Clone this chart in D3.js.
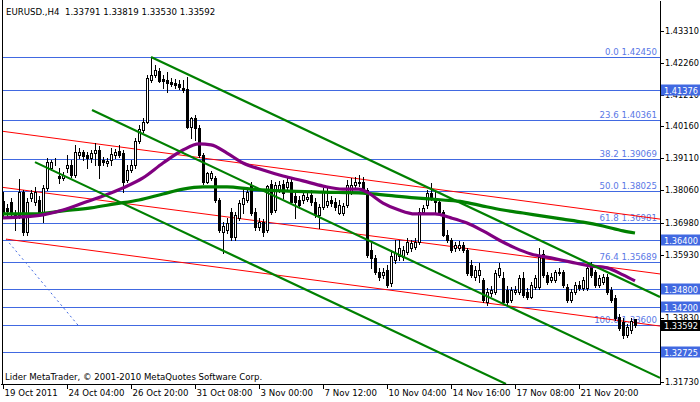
<!DOCTYPE html>
<html>
<head>
<meta charset="utf-8">
<script src="https://cdn.jsdelivr.net/npm/d3@7"></script>
<style>
  body { margin: 0; background: #fff; }
  svg text { font-family: "DejaVu Sans", sans-serif; font-size: 8.6px; white-space: pre; }
  svg .scale text { font-size: 8.2px; }
</style>
</head>
<body>
<svg id="chart" width="700" height="402"></svg>
<script>
const titleText = 'EURUSD.,H4  1.33791 1.33819 1.33530 1.33592';
const footerText = 'Lider MetaTrader, \u00a9 2001-2010 MetaQuotes Software Corp.';

// H4 bars, [open, high, low, close]
const candles = [
  [1.3770,1.3799,1.3714,1.3730],[1.3747,1.3760,1.3720,1.3737],[1.3767,1.3780,1.3714,1.3730],[1.3727,1.3740,1.3674,1.3714],
  [1.3724,1.3842,1.3714,1.3799],[1.3799,1.3806,1.3658,1.3667],[1.3667,1.3780,1.3658,1.3767],[1.3780,1.3806,1.3770,1.3796],
  [1.3767,1.3816,1.3757,1.3799],[1.3773,1.3786,1.3720,1.3733],[1.3733,1.3823,1.3700,1.3813],[1.3813,1.3912,1.3806,1.3898],
  [1.3879,1.3905,1.3872,1.3898],[1.3898,1.3912,1.3888,1.3897],[1.3852,1.3879,1.3829,1.3846],[1.3846,1.3865,1.3839,1.3856],
  [1.3879,1.3922,1.3865,1.3888],[1.3888,1.3905,1.3849,1.3856],[1.3856,1.3955,1.3849,1.3931],[1.3922,1.3945,1.3912,1.3931],
  [1.3931,1.3938,1.3905,1.3918],[1.3922,1.3931,1.3879,1.3912],[1.3912,1.3938,1.3898,1.3928],[1.3928,1.3961,1.3888,1.3938],
  [1.3938,1.3951,1.3846,1.3888],[1.3905,1.3915,1.3888,1.3898],[1.3895,1.3912,1.3885,1.3902],[1.3905,1.3945,1.3888,1.3925],
  [1.3922,1.3941,1.3912,1.3931],[1.3935,1.3955,1.3915,1.3922],[1.3928,1.3938,1.3799,1.3832],[1.3839,1.3888,1.3832,1.3872],
  [1.3872,1.3905,1.3865,1.3888],[1.3888,1.3978,1.3879,1.3968],[1.3968,1.4020,1.3961,1.4007],[1.4004,1.4044,1.3997,1.4030],
  [1.4030,1.4186,1.4027,1.4176],[1.4169,1.4245,1.4162,1.4186],[1.4186,1.4218,1.4179,1.4202],[1.4199,1.4209,1.4162,1.4166],
  [1.4172,1.4186,1.4143,1.4166],[1.4169,1.4195,1.4129,1.4159],[1.4162,1.4176,1.4149,1.4156],[1.4159,1.4172,1.4143,1.4152],
  [1.4156,1.4169,1.4139,1.4146],[1.4143,1.4169,1.4129,1.4136],[1.4139,1.4179,1.4011,1.4014],[1.4014,1.4047,1.3978,1.4044],
  [1.4044,1.4053,1.3971,1.4011],[1.4011,1.4020,1.3915,1.3922],[1.3922,1.3928,1.3826,1.3832],[1.3832,1.3865,1.3829,1.3862],
  [1.3846,1.3869,1.3839,1.3862],[1.3846,1.3852,1.3767,1.3773],[1.3773,1.3780,1.3667,1.3674],[1.3667,1.3700,1.3598,1.3687],
  [1.3674,1.3714,1.3664,1.3697],[1.3733,1.3747,1.3641,1.3651],[1.3651,1.3733,1.3641,1.3724],[1.3714,1.3773,1.3707,1.3763],
  [1.3760,1.3813,1.3730,1.3780],[1.3773,1.3813,1.3767,1.3799],[1.3823,1.3832,1.3724,1.3730],[1.3733,1.3747,1.3674,1.3684],
  [1.3684,1.3714,1.3674,1.3700],[1.3700,1.3710,1.3654,1.3667],[1.3674,1.3823,1.3667,1.3819],[1.3826,1.3839,1.3727,1.3733],
  [1.3740,1.3832,1.3733,1.3823],[1.3806,1.3836,1.3799,1.3823],[1.3826,1.3839,1.3780,1.3796],[1.3816,1.3846,1.3806,1.3832],
  [1.3832,1.3846,1.3760,1.3767],[1.3786,1.3799,1.3714,1.3767],[1.3773,1.3786,1.3747,1.3757],[1.3773,1.3799,1.3763,1.3790],
  [1.3776,1.3796,1.3770,1.3783],[1.3790,1.3806,1.3757,1.3767],[1.3767,1.3780,1.3717,1.3724],[1.3724,1.3760,1.3681,1.3750],
  [1.3750,1.3813,1.3743,1.3799],[1.3757,1.3813,1.3750,1.3770],[1.3773,1.3786,1.3753,1.3763],[1.3767,1.3780,1.3740,1.3750],
  [1.3730,1.3773,1.3727,1.3757],[1.3730,1.3763,1.3724,1.3753],[1.3757,1.3839,1.3750,1.3823],[1.3799,1.3846,1.3793,1.3823],
  [1.3823,1.3849,1.3813,1.3832],[1.3829,1.3856,1.3819,1.3832],[1.3832,1.3849,1.3799,1.3806],[1.3806,1.3813,1.3585,1.3592],
  [1.3608,1.3631,1.3549,1.3582],[1.3582,1.3592,1.3529,1.3535],[1.3535,1.3549,1.3509,1.3519],[1.3526,1.3549,1.3516,1.3535],
  [1.3542,1.3558,1.3486,1.3492],[1.3499,1.3608,1.3489,1.3588],[1.3575,1.3641,1.3565,1.3598],[1.3588,1.3641,1.3575,1.3615],
  [1.3585,1.3621,1.3575,1.3608],[1.3601,1.3648,1.3595,1.3634],[1.3615,1.3641,1.3605,1.3631],[1.3618,1.3648,1.3611,1.3634],
  [1.3634,1.3747,1.3628,1.3733],[1.3733,1.3757,1.3727,1.3747],[1.3757,1.3806,1.3747,1.3796],[1.3796,1.3829,1.3773,1.3780],
  [1.3780,1.3799,1.3730,1.3767],[1.3767,1.3773,1.3727,1.3733],[1.3733,1.3740,1.3654,1.3658],[1.3658,1.3674,1.3634,1.3641],
  [1.3641,1.3648,1.3601,1.3608],[1.3615,1.3634,1.3605,1.3625],[1.3615,1.3638,1.3608,1.3625],[1.3625,1.3634,1.3601,1.3608],
  [1.3608,1.3615,1.3526,1.3532],[1.3558,1.3575,1.3519,1.3526],[1.3519,1.3555,1.3509,1.3542],[1.3526,1.3565,1.3502,1.3542],
  [1.3509,1.3516,1.3437,1.3443],[1.3437,1.3483,1.3427,1.3469],[1.3466,1.3489,1.3456,1.3476],[1.3469,1.3542,1.3463,1.3532],
  [1.3526,1.3565,1.3519,1.3549],[1.3516,1.3535,1.3430,1.3437],[1.3476,1.3489,1.3430,1.3437],[1.3443,1.3486,1.3437,1.3476],
  [1.3469,1.3489,1.3463,1.3476],[1.3469,1.3526,1.3463,1.3516],[1.3516,1.3535,1.3453,1.3459],[1.3469,1.3483,1.3446,1.3453],
  [1.3453,1.3502,1.3450,1.3492],[1.3486,1.3526,1.3479,1.3516],[1.3486,1.3615,1.3479,1.3585],[1.3595,1.3608,1.3519,1.3526],
  [1.3526,1.3535,1.3496,1.3502],[1.3509,1.3532,1.3502,1.3519],[1.3509,1.3542,1.3502,1.3535],[1.3535,1.3549,1.3526,1.3533],
  [1.3535,1.3542,1.3486,1.3492],[1.3486,1.3496,1.3437,1.3443],[1.3443,1.3479,1.3437,1.3469],[1.3469,1.3502,1.3463,1.3492],
  [1.3492,1.3506,1.3476,1.3483],[1.3483,1.3519,1.3476,1.3509],[1.3483,1.3558,1.3476,1.3549],[1.3552,1.3568,1.3519,1.3526],
  [1.3535,1.3542,1.3486,1.3492],[1.3492,1.3526,1.3486,1.3516],[1.3502,1.3529,1.3496,1.3519],[1.3519,1.3529,1.3463,1.3469],
  [1.3476,1.3486,1.3437,1.3443],[1.3450,1.3459,1.3377,1.3384],[1.3387,1.3397,1.3344,1.3351],[1.3370,1.3384,1.3318,1.3327],
  [1.3327,1.3364,1.3321,1.3354],[1.3344,1.3384,1.3334,1.3374],[1.33791,1.33819,1.33530,1.33592]
];

const xTickBars = [0, 16, 32, 48, 64, 80, 96, 112, 128, 144];
const xTickLabels = ['19 Oct 2011', '24 Oct 04:00', '26 Oct 20:00', '31 Oct 08:00', '3 Nov 00:00',
  '7 Nov 12:00', '10 Nov 04:00', '14 Nov 16:00', '17 Nov 08:00', '21 Nov 20:00'];
// 1.34880 and 1.32780 sit fully under the price markers, so they are left out
const yTickValues = [1.43310, 1.42260, 1.41210, 1.40160, 1.39110, 1.38060, 1.36980,
  1.35930, 1.33830, 1.31730];

// moving averages, sampled at bar indexes
const maFastBars = [0, 5, 10, 15, 20, 25, 30, 35, 40, 45, 49, 52, 56, 60, 65, 70, 75, 80, 85, 89, 91,
  95, 99, 103, 108, 112, 116, 120, 124, 128, 132, 137, 142, 147, 151, 155, 158];
const maFastValues = [1.3714, 1.3717, 1.3724, 1.3740, 1.3763, 1.3786, 1.3813, 1.3846, 1.3895, 1.3938,
  1.3958, 1.3955, 1.3928, 1.3895, 1.3872, 1.3852, 1.3836, 1.3819, 1.3809, 1.3809, 1.3799, 1.3763,
  1.3740, 1.3727, 1.3727, 1.3714, 1.3697, 1.3671, 1.3641, 1.3615, 1.3595, 1.3582, 1.3568, 1.3555,
  1.3549, 1.3526, 1.3506];
const maSlowBars = [0, 8, 15, 22, 28, 34, 40, 45, 50, 56, 62, 70, 80, 90, 95, 103, 110, 115, 120, 125,
  130, 135, 140, 145, 150, 155, 158];
const maSlowValues = [1.3727, 1.3727, 1.3737, 1.3747, 1.3760, 1.3773, 1.3793, 1.3809, 1.3816, 1.3816,
  1.3809, 1.3803, 1.3799, 1.3796, 1.3790, 1.3780, 1.3773, 1.3767, 1.3753, 1.3740, 1.3730, 1.3720,
  1.3710, 1.3700, 1.3687, 1.3671, 1.3664];

const levelPrices = [1.42450, 1.41376, 1.40361, 1.39069, 1.38025, 1.36981, 1.36400, 1.35689,
  1.34800, 1.34200, 1.33600, 1.32725];
const fibNames = ['0.0', '23.6', '38.2', '50.0', '61.8', '76.4', '100.0'];
const fibPrices = [1.42450, 1.40361, 1.39069, 1.38025, 1.36981, 1.35689, 1.33600];
const markedPrices = [1.41376, 1.36400, 1.34800, 1.34200, 1.32725];
const bidPrice = 1.33592;

// trend lines: [bar1, price1, bar2, price2]
const redLines = [
  [-0.25, 1.4000, 164.25, 1.3710],
  [-0.25, 1.3815, 164.25, 1.3529],
  [0.75, 1.3644, 164.25, 1.3357]
];
const channelLines = [
  [37, 1.4245, 164.25, 1.3453],
  [22.25, 1.4070, 164.25, 1.3186],
  [8, 1.3898, 125.75, 1.3166]
];
const fibTrend = [0.75, 1.3644, 18.75, 1.3360];

const blue = '#4169e1';
const svg = d3.select('#chart');
const xs = d3.scaleLinear().domain([-0.75, 164.25]).range([0, 660]);
const ys = d3.scaleLinear().domain([1.31658, 1.4433]).range([384, 0]);
const py = p => Math.round(ys(p)) + 0.5;

svg.append('rect').attr('width', 700).attr('height', 402).attr('fill', '#fff');
svg.append('defs').append('clipPath').attr('id', 'plotClip')
  .append('rect').attr('x', 2).attr('y', 0).attr('width', 658).attr('height', 384);
const plot = svg.append('g').attr('clip-path', 'url(#plotClip)');

// horizontal levels
plot.selectAll('line.level').data(levelPrices).join('line')
  .attr('class', 'level')
  .attr('x1', 2).attr('x2', 660)
  .attr('y1', d => py(d)).attr('y2', d => py(d))
  .attr('stroke', blue).attr('stroke-width', 1);

plot.selectAll('text.fib').data(fibPrices).join('text')
  .attr('class', 'fib')
  .attr('x', 657).attr('y', d => Math.round(ys(d)) - 2)
  .attr('text-anchor', 'end').attr('fill', '#5a78e6')
  .text((d, i) => fibNames[i] + ' ' + d.toFixed(5));

plot.append('line')
  .attr('x1', xs(fibTrend[0])).attr('y1', ys(fibTrend[1]))
  .attr('x2', xs(fibTrend[2])).attr('y2', ys(fibTrend[3]))
  .attr('stroke', blue).attr('stroke-dasharray', '2,3');

plot.selectAll('line.red').data(redLines).join('line')
  .attr('class', 'red')
  .attr('x1', d => xs(d[0])).attr('y1', d => ys(d[1]))
  .attr('x2', d => xs(d[2])).attr('y2', d => ys(d[3]))
  .attr('stroke', '#ff0000').attr('stroke-width', 1);

// candles
const bars = plot.append('g').attr('shape-rendering', 'crispEdges');
candles.forEach((c, i) => {
  const [o, h, l, cl] = c;
  const cx = Math.round(xs(i));
  bars.append('line')
    .attr('x1', cx + 0.5).attr('x2', cx + 0.5)
    .attr('y1', Math.round(ys(h))).attr('y2', Math.round(ys(l)) + 1)
    .attr('stroke', '#000');
  const top = Math.round(ys(Math.max(o, cl)));
  const bot = Math.round(ys(Math.min(o, cl)));
  bars.append('rect')
    .attr('x', cx - 0.5).attr('y', top + 0.5)
    .attr('width', 2).attr('height', Math.max(bot - top, 0))
    .attr('fill', cl >= o ? '#fff' : '#000')
    .attr('stroke', '#000');
});

// moving averages
const maLine = d3.line().curve(d3.curveMonotoneX);
plot.append('path')
  .attr('d', maLine(maSlowBars.map((b, i) => [xs(b), ys(maSlowValues[i])])))
  .attr('fill', 'none').attr('stroke', '#008000').attr('stroke-width', 3.2);
plot.append('path')
  .attr('d', maLine(maFastBars.map((b, i) => [xs(b), ys(maFastValues[i])])))
  .attr('fill', 'none').attr('stroke', '#800080').attr('stroke-width', 3.2);

plot.selectAll('line.chan').data(channelLines).join('line')
  .attr('class', 'chan')
  .attr('x1', d => xs(d[0])).attr('y1', d => ys(d[1]))
  .attr('x2', d => xs(d[2])).attr('y2', d => ys(d[3]))
  .attr('stroke', '#008000').attr('stroke-width', 2.2);

// frame and axes
svg.append('line').attr('x1', 2.5).attr('x2', 2.5).attr('y1', 0).attr('y2', 384)
  .attr('stroke', '#000');

const yAxis = svg.append('g').attr('class', 'scale').attr('transform', 'translate(660,0)')
  .call(d3.axisRight(ys).tickValues(yTickValues).tickSize(4).tickSizeOuter(0)
    .tickFormat(d3.format('.5f')));
const xAxis = svg.append('g').attr('transform', 'translate(0,384)')
  .call(d3.axisBottom(xs).tickValues(xTickBars).tickSize(5).tickSizeOuter(0)
    .tickFormat((d, i) => xTickLabels[i]));
[yAxis, xAxis].forEach(a => {
  a.attr('font-family', null).attr('font-size', null);
  a.selectAll('line, path').attr('stroke', '#000').attr('shape-rendering', 'crispEdges');
  a.selectAll('text').attr('fill', '#000');
});
yAxis.selectAll('text').attr('x', 5);
xAxis.selectAll('text').attr('text-anchor', 'start').attr('x', 1).attr('y', 6);

// price markers on the scale
const markers = svg.append('g').attr('class', 'scale');
markedPrices.forEach(p => {
  const y = Math.round(ys(p));
  markers.append('rect').attr('x', 661).attr('y', y - 5.5).attr('width', 39).attr('height', 11)
    .attr('fill', blue);
  markers.append('text').attr('x', 664).attr('y', y + 3.5).attr('fill', '#fff')
    .text(p.toFixed(5));
});
const by = Math.round(ys(bidPrice));
markers.append('rect').attr('x', 661).attr('y', by - 5).attr('width', 39).attr('height', 11)
  .attr('fill', '#000');
markers.append('text').attr('x', 664).attr('y', by + 4).attr('fill', '#fff')
  .text(bidPrice.toFixed(5));

svg.append('text').attr('x', 6).attr('y', 15).attr('fill', '#000').text(titleText);
svg.append('text').attr('x', 5).attr('y', 380).attr('fill', '#000').text(footerText);
</script>
</body>
</html>
